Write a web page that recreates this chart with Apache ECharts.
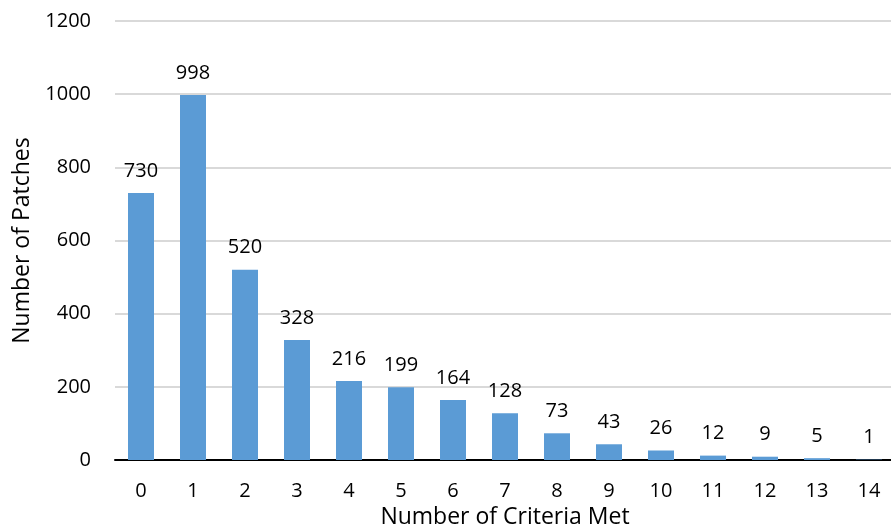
<!DOCTYPE html>
<html>
<head>
    <meta charset="utf-8" />
    <title>Criteria Met</title>
    <script src="https://cdn.jsdelivr.net/npm/echarts@6.0.0/dist/echarts.min.js"></script>
    <style>
        html, body { margin: 0; padding: 0; background: #fff; }
        #main { width: 891px; height: 526px; }
    </style>
</head>
<body>
    <div id="main"></div>
    <script type="text/javascript">
        var criteria = ['0', '1', '2', '3', '4', '5', '6', '7', '8', '9', '10', '11', '12', '13', '14'];
        var patches = [730, 998, 520, 328, 216, 199, 164, 128, 73, 43, 26, 12, 9, 5, 1];

        var font = '"Open Sans", sans-serif';
        var myChart = echarts.init(document.getElementById('main'));
        myChart.setOption({
            animation: false,
            grid: { left: 115, top: 21, width: 780, bottom: 66, outerBoundsMode: 'none', containLabel: false },
            xAxis: {
                type: 'category',
                data: criteria,
                name: 'Number of Criteria Met',
                nameLocation: 'middle',
                nameGap: 37,
                nameTextStyle: { fontFamily: font, fontSize: 23, color: '#000' },
                axisLine: { lineStyle: { color: '#000', width: 2 } },
                axisTick: { show: false },
                axisLabel: { fontFamily: font, fontSize: 20, color: '#000', margin: 21 }
            },
            yAxis: {
                type: 'value',
                min: 0,
                max: 1200,
                interval: 200,
                name: 'Number of Patches',
                nameLocation: 'middle',
                nameGap: 81,
                nameTextStyle: { fontFamily: font, fontSize: 23, color: '#000' },
                axisLine: { show: false },
                axisTick: { show: false },
                axisLabel: {
                    fontFamily: font, fontSize: 20, color: '#000', margin: 24,
                    formatter: function (v) { return String(v); }
                },
                splitLine: { lineStyle: { color: '#d9d9d9', width: 2 } }
            },
            series: [
                {
                    type: 'bar',
                    data: patches,
                    barWidth: '50%',
                    itemStyle: { color: '#5b9bd5' },
                    label: {
                        show: true,
                        position: 'top',
                        distance: 12,
                        fontFamily: font,
                        fontSize: 20,
                        color: '#000'
                    }
                }
            ]
        });
    </script>
</body>
</html>
